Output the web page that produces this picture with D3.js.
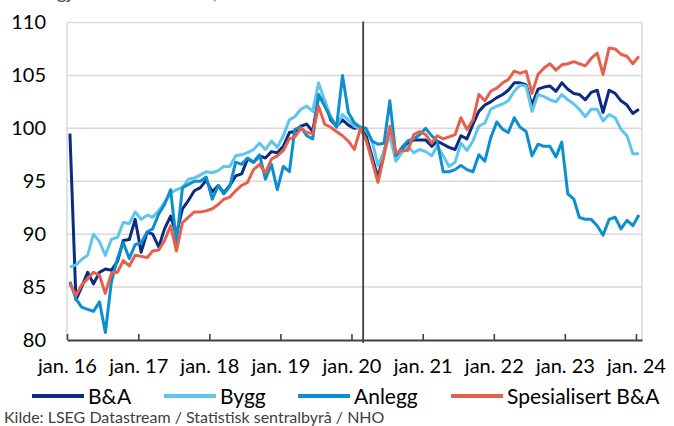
<!DOCTYPE html>
<html><head><meta charset="utf-8">
<script src="https://cdn.jsdelivr.net/npm/d3@7"></script>
<style>
body{margin:0;background:#fff}
svg{display:block}
text{font-family:Lato,"Open Sans",sans-serif}
</style>
</head><body>
<svg id="chart" width="674" height="426"></svg>
<script>
// ---- data ----
const titleText = "Sesongjusterte indekser, februar 2020 = 100";
const sourceText = "Kilde: LSEG Datastream / Statistisk sentralbyrå / NHO";
const seriesNames = ["B&A", "Bygg", "Anlegg", "Spesialisert B&A"];
const seriesColors = ["#0c2c84", "#5ec5ec", "#0b8fcf", "#e6604e"];
const firstMonth = [2016, 0]; // jan. 2016, monthly observations
const baValues = [99.5,83.8,85.0,86.4,85.3,86.4,86.7,86.6,87.4,89.4,89.5,91.4,88.3,90.2,90.0,88.8,90.5,91.7,90.0,92.4,93.2,94.1,94.4,95.1,94.0,94.6,93.9,94.6,95.5,95.7,97.1,96.8,97.4,97.2,97.8,97.7,98.3,99.6,99.7,100.2,100.4,99.7,103.0,102.6,100.8,100.2,100.8,100.3,100.0,100.1,99.3,97.3,95.3,97.8,99.8,97.5,98.0,98.6,98.9,98.9,98.9,98.3,98.8,98.5,98.2,98.0,99.3,99.0,100.4,101.6,102.2,102.5,102.9,103.2,103.6,104.3,104.3,104.1,102.2,103.7,103.9,104.0,103.5,104.3,103.7,103.3,103.2,102.7,103.4,103.6,101.5,103.6,103.3,102.6,102.2,101.4,101.8];
const byggValues = [86.9,87.1,87.6,88.0,90.0,89.3,88.0,89.5,89.7,91.1,91.0,92.1,91.4,91.8,91.6,92.2,93.0,93.9,94.2,94.4,95.2,95.3,95.6,95.9,95.8,96.0,96.4,96.4,97.4,97.5,97.7,98.0,98.6,98.0,98.8,98.2,99.3,100.8,101.1,101.8,102.1,101.6,104.3,102.6,101.1,100.2,101.3,100.8,100.2,100.0,99.8,98.8,96.5,97.8,99.3,96.9,97.7,98.3,97.7,98.0,97.8,97.4,98.3,97.4,96.4,96.8,98.6,97.9,98.8,100.2,100.5,101.8,102.1,102.3,102.6,103.5,104.1,104.0,101.6,103.2,103.0,102.7,102.5,103.2,102.7,102.3,101.8,101.1,101.8,101.8,100.7,101.3,101.0,99.9,99.3,97.6,97.6];
const anleggValues = [85.5,83.9,83.1,82.9,82.7,83.6,80.7,85.5,87.7,89.2,87.7,89.0,89.2,90.2,90.5,91.9,92.8,94.2,89.2,94.4,94.7,95.0,95.0,95.4,93.3,94.6,93.8,94.5,96.8,96.6,97.2,96.8,97.5,95.2,96.6,94.2,96.4,95.9,99.9,100.1,99.3,99.0,103.2,102.1,101.0,100.1,105.0,101.5,100.5,100.1,100.0,98.8,98.5,98.6,102.6,97.4,98.2,98.8,99.0,99.4,100.0,99.3,98.8,95.9,95.9,96.1,96.5,96.1,95.9,97.5,96.9,99.1,100.6,99.9,99.6,101.0,100.1,99.7,97.4,98.5,98.3,98.3,97.3,98.7,93.8,93.3,91.6,91.4,91.4,90.8,89.9,91.4,91.6,90.5,91.3,90.8,91.8];
const spesValues = [85.3,84.2,85.2,85.8,86.4,86.1,84.4,86.3,86.4,87.5,87.0,88.0,87.9,87.8,88.4,88.5,89.4,90.8,88.4,91.1,91.6,92.1,92.1,92.2,92.4,92.8,93.3,93.5,94.1,94.6,94.9,96.1,96.6,95.8,97.1,97.4,97.9,99.0,99.2,100.0,99.6,99.5,102.1,100.4,100.1,99.7,99.3,98.8,98.0,100.0,98.9,96.9,94.9,97.4,100.2,97.7,97.9,97.9,99.4,99.7,99.4,98.6,99.3,99.0,99.2,99.4,101.0,99.9,100.8,103.2,102.6,103.5,103.8,104.3,104.6,105.4,105.2,105.4,103.3,105.1,105.7,106.1,105.5,106.0,106.1,106.3,106.1,105.9,106.6,107.1,105.1,107.6,107.5,107.0,106.8,106.1,106.8];
const xTickYears = [2016,2017,2018,2019,2020,2021,2022,2023,2024];
const xTickLabels = ["jan. 16","jan. 17","jan. 18","jan. 19","jan. 20","jan. 21","jan. 22","jan. 23","jan. 24"];
const yTickValues = [80,85,90,95,100,105,110];
const eventDate = new Date(Date.UTC(2020, 2, 1)); // marker line, mars 2020

// ---- layout ----
const L = 67, R = 642, T = 22.5, B = 340;
const svg = d3.select("#chart");
const allSeries = [baValues, byggValues, anleggValues, spesValues];
const months = baValues.map((_, i) => new Date(Date.UTC(firstMonth[0], firstMonth[1] + i, 16)));

const x = d3.scaleUtc()
  .domain([new Date(Date.UTC(2016,0,1)), new Date(Date.UTC(2024,1,1))])
  .range([L, R]);
const y = d3.scaleLinear().domain([80,110]).range([B, T]);

// title (cut off at the top edge, as in the reference)
svg.append("text").attr("x", 4).attr("y", -1).attr("font-size", 20).attr("fill", "#555").text(titleText);

// gridlines
svg.append("g").selectAll("line").data(yTickValues.filter(v => v > 80))
  .join("line")
  .attr("x1", L).attr("x2", R)
  .attr("y1", d => y(d)).attr("y2", d => y(d))
  .attr("stroke", "#d9d9d9").attr("stroke-width", 1.5);
// frame sides
svg.append("line").attr("x1", L).attr("x2", L).attr("y1", T).attr("y2", B).attr("stroke", "#d9d9d9").attr("stroke-width", 1.5);
svg.append("line").attr("x1", R).attr("x2", R).attr("y1", T).attr("y2", B).attr("stroke", "#d9d9d9").attr("stroke-width", 1.5);

// y axis labels
const yAxis = svg.append("g").attr("transform", `translate(${L},0)`)
  .call(d3.axisLeft(y).tickValues(yTickValues).tickSize(0).tickPadding(21).tickFormat(d3.format("d")));
yAxis.select(".domain").remove();
yAxis.selectAll("text").attr("font-size", 20).attr("fill", "#000").attr("font-family", "Lato");

// lines
const line = d3.line().x((d, i) => x(months[i])).y(d => y(d));
svg.append("g").selectAll("path").data(allSeries).join("path")
  .attr("d", d => line(d))
  .attr("fill", "none")
  .attr("stroke", (d, i) => seriesColors[i])
  .attr("stroke-width", 3)
  .attr("stroke-linejoin", "round");

// event marker
svg.append("line").attr("x1", x(eventDate)).attr("x2", x(eventDate))
  .attr("y1", T - 1).attr("y2", B + 3)
  .attr("stroke", "#404040").attr("stroke-width", 1.8);

// x axis
const xAxis = svg.append("g").attr("transform", `translate(0,${B})`)
  .call(d3.axisBottom(x)
    .tickValues(xTickYears.map(yy => new Date(Date.UTC(yy,0,1))))
    .tickSize(-6).tickSizeOuter(0).tickPadding(19)
    .tickFormat((d, i) => xTickLabels[i]));
xAxis.select(".domain").attr("stroke", "#404040").attr("stroke-width", 2);
xAxis.selectAll(".tick line").attr("stroke", "#404040").attr("stroke-width", 1.6);
xAxis.selectAll("text").attr("font-size", 20).attr("fill", "#000").attr("font-family", "Lato");

// legend
const legendX = [32, 164, 298, 451];
const lg = svg.append("g").selectAll("g").data(seriesNames).join("g")
  .attr("transform", (d, i) => `translate(${legendX[i]},396)`);
lg.append("line").attr("x1", 0).attr("x2", 52).attr("y1", 0).attr("y2", 0)
  .attr("stroke", (d, i) => seriesColors[i]).attr("stroke-width", 4);
lg.append("text").attr("x", 56).attr("y", 7.5).attr("font-size", 21).attr("fill", "#000").text(d => d);

// source
svg.append("text").attr("x", 4).attr("y", 423).attr("font-size", 16).attr("fill", "#404040").text(sourceText);
</script>
</body></html>
